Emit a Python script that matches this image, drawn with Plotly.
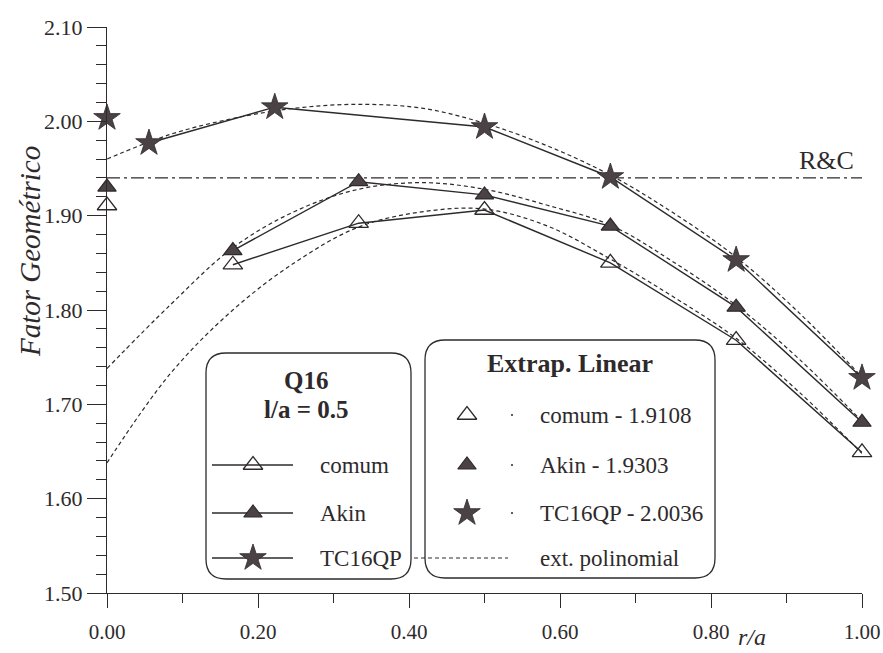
import plotly.graph_objects as go

# ---------------- data ----------------
r_ca = [0.1667, 0.3333, 0.5, 0.6667, 0.8333, 1.0]
comum = [1.848, 1.892, 1.906, 1.850, 1.768, 1.649]
akin = [1.863, 1.936, 1.922, 1.889, 1.803, 1.681]

r_tc = [0.0556, 0.2222, 0.5, 0.6667, 0.8333, 1.0]
tc16qp = [1.977, 2.015, 1.994, 1.941, 1.853, 1.728]

extrap_x = [0.0]
extrap_comum = [1.9108]
extrap_akin = [1.9303]
extrap_tc16qp = [2.0036]

poly_x = [0.0, 0.0833, 0.1667, 0.25, 0.3333, 0.4167, 0.5, 0.5833, 0.6667, 0.75, 0.8333, 0.9167, 1.0]
poly_comum = [1.638, 1.732, 1.800, 1.851, 1.888, 1.904, 1.907, 1.889, 1.854, 1.814, 1.770, 1.713, 1.648]
poly_akin = [1.738, 1.805, 1.866, 1.905, 1.928, 1.935, 1.928, 1.911, 1.890, 1.851, 1.805, 1.748, 1.682]
poly_tc16qp = [1.960, 1.986, 2.003, 2.014, 2.018, 2.014, 1.998, 1.974, 1.943, 1.903, 1.856, 1.797, 1.729]

rc_value = 1.94
rc_x = [0.0, 1.0]

x_ticks = [0.0, 0.2, 0.4, 0.6, 0.8, 1.0]
y_ticks = [1.5, 1.6, 1.7, 1.8, 1.9, 2.0, 2.1]

# ---------------- layout helpers ----------------
OFF = 0  # body margin removed by post_script
W, H = 883, 653
ML, MT = 107, 27
PW, PH = 755, 566
MR = W - ML - PW
MB = H - MT - PH
XR = (0.0, 1.0)
YR = (1.5, 2.1)


def X(px):
    # screen pixel -> x data
    return XR[0] + (px - OFF - ML) / PW * (XR[1] - XR[0])


def Y(py):
    # screen pixel -> y data
    return YR[0] + (MT + PH - (py - OFF)) / PH * (YR[1] - YR[0])


def PX(px):
    return (px - OFF - ML) / PW


def PY(py):
    return (MT + PH - (py - OFF)) / PH


INK = "#2e2a2c"
FILL = "#4a4245"
SERIF = "Liberation Serif, Times New Roman, serif"

fig = go.Figure()

# polynomial dashed curves
for py_vals in (poly_comum, poly_akin, poly_tc16qp):
    fig.add_trace(go.Scatter(x=poly_x, y=py_vals, mode="lines",
                             line=dict(color=INK, width=1.2, dash="4px,3px", shape="spline", smoothing=1.0),
                             hoverinfo="skip", showlegend=False))

# R&C line
fig.add_trace(go.Scatter(x=rc_x, y=[rc_value, rc_value], mode="lines",
                         line=dict(color=INK, width=1.2, dash="13px,4px,3px,4px"),
                         hoverinfo="skip", showlegend=False))

open_tri = dict(symbol="triangle-up-open", size=17, color=INK, line=dict(width=1.3, color=INK))
fill_tri = dict(symbol="triangle-up", size=16, color=FILL, line=dict(width=1.2, color=INK))
star = dict(symbol="star", size=20, color=FILL, line=dict(width=0.8, color=INK))

# solid data lines with markers
fig.add_trace(go.Scatter(x=r_ca, y=comum, mode="lines+markers", name="comum",
                         line=dict(color=INK, width=1.4), marker=open_tri,
                         cliponaxis=False, showlegend=False))
fig.add_trace(go.Scatter(x=r_ca, y=akin, mode="lines+markers", name="Akin",
                         line=dict(color=INK, width=1.4), marker=fill_tri,
                         cliponaxis=False, showlegend=False))
fig.add_trace(go.Scatter(x=r_tc, y=tc16qp, mode="lines+markers", name="TC16QP",
                         line=dict(color=INK, width=1.4), marker=star,
                         cliponaxis=False, showlegend=False))

# linear extrapolation markers at r/a = 0
fig.add_trace(go.Scatter(x=extrap_x, y=extrap_comum, mode="markers", marker=open_tri,
                         cliponaxis=False, showlegend=False))
fig.add_trace(go.Scatter(x=extrap_x, y=extrap_akin, mode="markers", marker=fill_tri,
                         cliponaxis=False, showlegend=False))
fig.add_trace(go.Scatter(x=extrap_x, y=extrap_tc16qp, mode="markers", marker=star,
                         cliponaxis=False, showlegend=False))


# ---------------- custom legend boxes ----------------
def rounded_box(x0, y0, x1, y1, r=20):
    pts = [
        f"M {X(x0 + r)},{Y(y0)}",
        f"L {X(x1 - r)},{Y(y0)}",
        f"Q {X(x1)},{Y(y0)} {X(x1)},{Y(y0 + r)}",
        f"L {X(x1)},{Y(y1 - r)}",
        f"Q {X(x1)},{Y(y1)} {X(x1 - r)},{Y(y1)}",
        f"L {X(x0 + r)},{Y(y1)}",
        f"Q {X(x0)},{Y(y1)} {X(x0)},{Y(y1 - r)}",
        f"L {X(x0)},{Y(y0 + r)}",
        f"Q {X(x0)},{Y(y0)} {X(x0 + r)},{Y(y0)}",
        "Z",
    ]
    return dict(type="path", path=" ".join(pts), xref="x", yref="y",
                line=dict(color=INK, width=1.3), fillcolor="white", layer="below")


shapes = [rounded_box(206, 353, 411, 579), rounded_box(425, 340, 715, 578)]

annotations = []


def txt(px, py, s, size=22, bold=False, xanchor="left"):
    if bold:
        s = f"<b>{s}</b>"
    annotations.append(dict(x=X(px), y=Y(py), xref="x", yref="y", text=s, showarrow=False,
                            xanchor=xanchor, yanchor="middle",
                            font=dict(family=SERIF, size=size, color=INK)))


# left legend
txt(306, 380, "Q16", 25, bold=True, xanchor="center")
txt(306, 409, "l/a = 0.5", 25, bold=True, xanchor="center")
left_rows = [(465, open_tri, "comum"), (513, fill_tri, "Akin"), (558, star, "TC16QP")]
for py, mk, label in left_rows:
    fig.add_trace(go.Scatter(x=[X(212), X(293)], y=[Y(py), Y(py)], mode="lines",
                             line=dict(color=INK, width=1.3), hoverinfo="skip", showlegend=False))
    fig.add_trace(go.Scatter(x=[X(253)], y=[Y(py)], mode="markers", marker=mk,
                             hoverinfo="skip", showlegend=False))
    txt(318, py, label, 23)

# right legend
txt(570, 363, "Extrap. Linear", 26, bold=True, xanchor="center")
right_rows = [(415, open_tri, "comum - 1.9108"), (465, fill_tri, "Akin - 1.9303"), (513, star, "TC16QP - 2.0036")]
for py, mk, label in right_rows:
    fig.add_trace(go.Scatter(x=[X(467)], y=[Y(py)], mode="markers", marker=mk,
                             hoverinfo="skip", showlegend=False))
    fig.add_trace(go.Scatter(x=[X(512)], y=[Y(py)], mode="markers",
                             marker=dict(symbol="circle", size=2, color=INK),
                             hoverinfo="skip", showlegend=False))
    txt(538, py, label, 23)
fig.add_trace(go.Scatter(x=[X(414), X(508)], y=[Y(558), Y(558)], mode="lines",
                         line=dict(color=INK, width=1.2, dash="4px,3px"),
                         hoverinfo="skip", showlegend=False))
txt(538, 558, "ext. polinomial", 23)

# R&C label
annotations.append(dict(x=X(856), y=rc_value, xref="x", yref="y", text="R&amp;C", showarrow=False,
                        xanchor="right", yanchor="bottom", yshift=1,
                        font=dict(family=SERIF, size=26, color=INK)))

# axis titles
annotations.append(dict(x=PX(30), y=PY(252), xref="paper", yref="paper",
                        text="<i>Fator Geométrico</i>", showarrow=False, textangle=-90,
                        xanchor="center", yanchor="middle",
                        font=dict(family=SERIF, size=29, color=INK)))
annotations.append(dict(x=PX(752), y=PY(637), xref="paper", yref="paper",
                        text="<i>r/a</i>", showarrow=False, xanchor="center", yanchor="middle",
                        font=dict(family=SERIF, size=24, color=INK)))

fig.update_layout(
    width=W, height=H,
    margin=dict(l=ML, r=MR, t=MT, b=MB, autoexpand=False),
    paper_bgcolor="white", plot_bgcolor="white",
    shapes=shapes, annotations=annotations,
    showlegend=False,
    xaxis=dict(range=list(XR), tickvals=x_ticks, ticktext=[f"{v:.2f}" for v in x_ticks],
               automargin=False, ticklabeloverflow="allow",
               showgrid=False, zeroline=False, showline=True, linecolor=INK, linewidth=1.3,
               ticks="outside", ticklen=14, tickwidth=1.2, tickcolor=INK,
               ticklabelstandoff=6,
               minor=dict(dtick=0.1, tick0=0, ticks="outside", ticklen=9, tickwidth=1.2, tickcolor=INK),
               tickfont=dict(family=SERIF, size=21, color=INK)),
    yaxis=dict(range=list(YR), tickvals=y_ticks, ticktext=[f"{v:.2f}" for v in y_ticks],
               automargin=False, ticklabeloverflow="allow",
               showgrid=False, zeroline=False, showline=True, linecolor=INK, linewidth=1.3,
               ticks="outside", ticklen=19, tickwidth=1.2, tickcolor=INK,
               ticklabelstandoff=0,
               minor=dict(dtick=0.02, tick0=1.5, ticks="outside", ticklen=10, tickwidth=1.2, tickcolor=INK),
               tickfont=dict(family=SERIF, size=22, color=INK)),
)

fig.write_html("out.html",
               config={"displayModeBar": False},
               post_script="document.body.style.margin='0';document.body.style.overflow='hidden';")
